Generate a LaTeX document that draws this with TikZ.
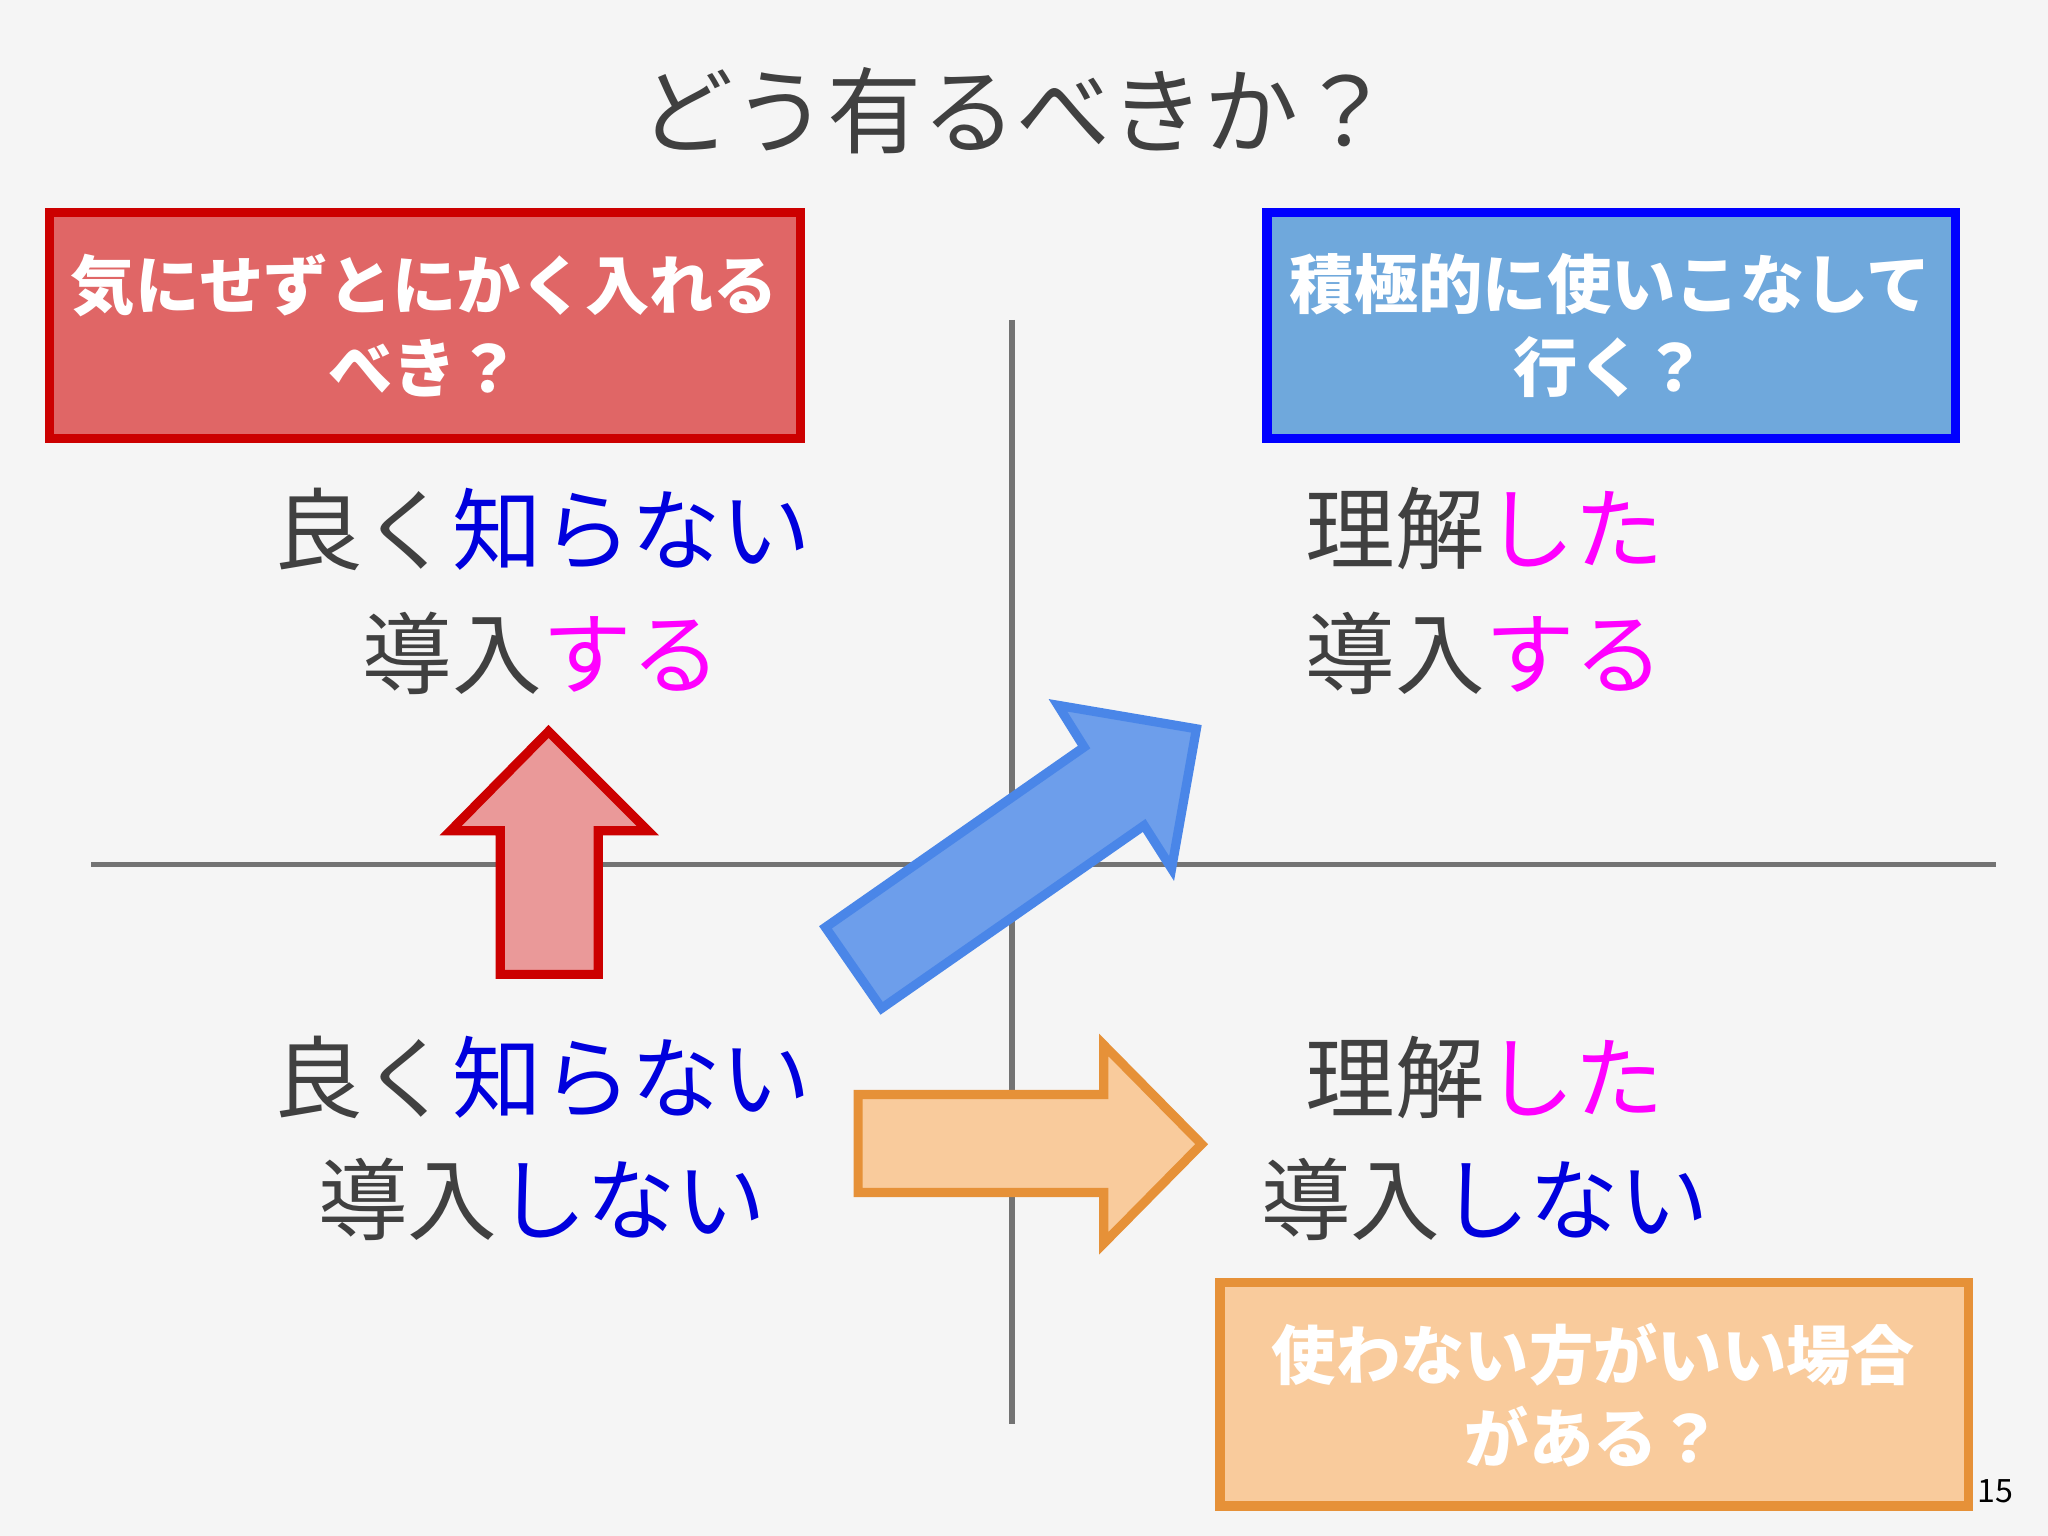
\documentclass[tikz,border=0pt]{standalone}
\usepackage{fontspec}
\setmainfont{Noto Sans CJK JP}
\definecolor{bg}{HTML}{F5F5F5}
\definecolor{tx}{HTML}{404040}
\definecolor{rfill}{HTML}{E06666}
\definecolor{rdraw}{HTML}{CC0000}
\definecolor{rarrow}{HTML}{EA9999}
\definecolor{bfill}{HTML}{6FA8DC}
\definecolor{bdraw}{HTML}{0000FF}
\definecolor{barrow}{HTML}{6D9EEB}
\definecolor{bad}{HTML}{4A86E8}
\definecolor{ofill}{HTML}{F9CB9C}
\definecolor{odraw}{HTML}{E69138}
\definecolor{blu}{HTML}{0000DD}
\definecolor{mag}{HTML}{FF00FF}
\begin{document}
\begin{tikzpicture}[x=0.01cm,y=-0.01cm,
  quad/.style={font=\fontsize{19.5pt}{24pt}\selectfont, text=tx, align=center},
  boxtxt/.style={font=\fontsize{14pt}{18pt}\selectfont\bfseries, text=white, align=center},
  axis/.style={draw=gray!90!black, line width=1.2pt}]
\fill[bg] (0,0) rectangle (1568,1176);
\useasboundingbox (0,0) rectangle (1568,1176);
\node[font=\fontsize{20.5pt}{24pt}\selectfont, text=tx] (title) at (778,85) {どう有るべきか？};
\coordinate (vt) at (775,245); \coordinate (vb) at (775,1090);
\coordinate (hl) at (70,662); \coordinate (hr) at (1528,662);
\draw[axis] (vt) -- (vb);
\draw[axis] (hl) -- (hr);
% boxes
\draw[rdraw, fill=rfill, line width=2pt] (38,163) rectangle (613,336);
\node[boxtxt] (rb) at (325,249) {気にせずとにかく入れる\\べき？};
\draw[bdraw, fill=bfill, line width=2pt] (970,163) rectangle (1497,336);
\node[boxtxt] (bb) at (1233,249) {積極的に使いこなして\\行く？};
\draw[odraw, fill=ofill, line width=2pt] (934,982) rectangle (1507,1153);
\node[boxtxt] (ob) at (1220,1068) {使わない方がいい場合\\がある？};
% quadrant texts
\node[quad] (q1a) at (415,405) {良く{\color{blu}知らない}};
\node[quad] (q1b) at (415,500) {導入{\color{mag}する}};
\node[quad] (q2a) at (1137,405) {理解{\color{mag}した}};
\node[quad] (q2b) at (1137,500) {導入{\color{mag}する}};
\node[quad] (q3a) at (415,825) {良く{\color{blu}知らない}};
\node[quad] (q3b) at (415,918) {導入{\color{blu}しない}};
\node[quad] (q4a) at (1137,825) {理解{\color{mag}した}};
\node[quad] (q4b) at (1137,918) {導入{\color{blu}しない}};
% arrows
\draw[rdraw, fill=rarrow, line width=2pt, line join=miter] (420,560) -- (496,636) -- (458,636) -- (458,746) -- (383,746) -- (383,636) -- (345,636) -- cycle;
\draw[odraw, fill=ofill, line width=2pt, line join=miter] (920,876) -- (845,952) -- (845,913) -- (657,913) -- (657,838) -- (845,838) -- (845,800) -- cycle;
\draw[bad, fill=barrow, line width=2pt, line join=miter] (916,558) -- (897,665) -- (876,632) -- (675,772) -- (632,710) -- (830,572) -- (810,540) -- cycle;
\node[font=\fontsize{7pt}{8pt}\selectfont, text=black] (pg) at (1528,1142) {15};
\end{tikzpicture}
\end{document}
